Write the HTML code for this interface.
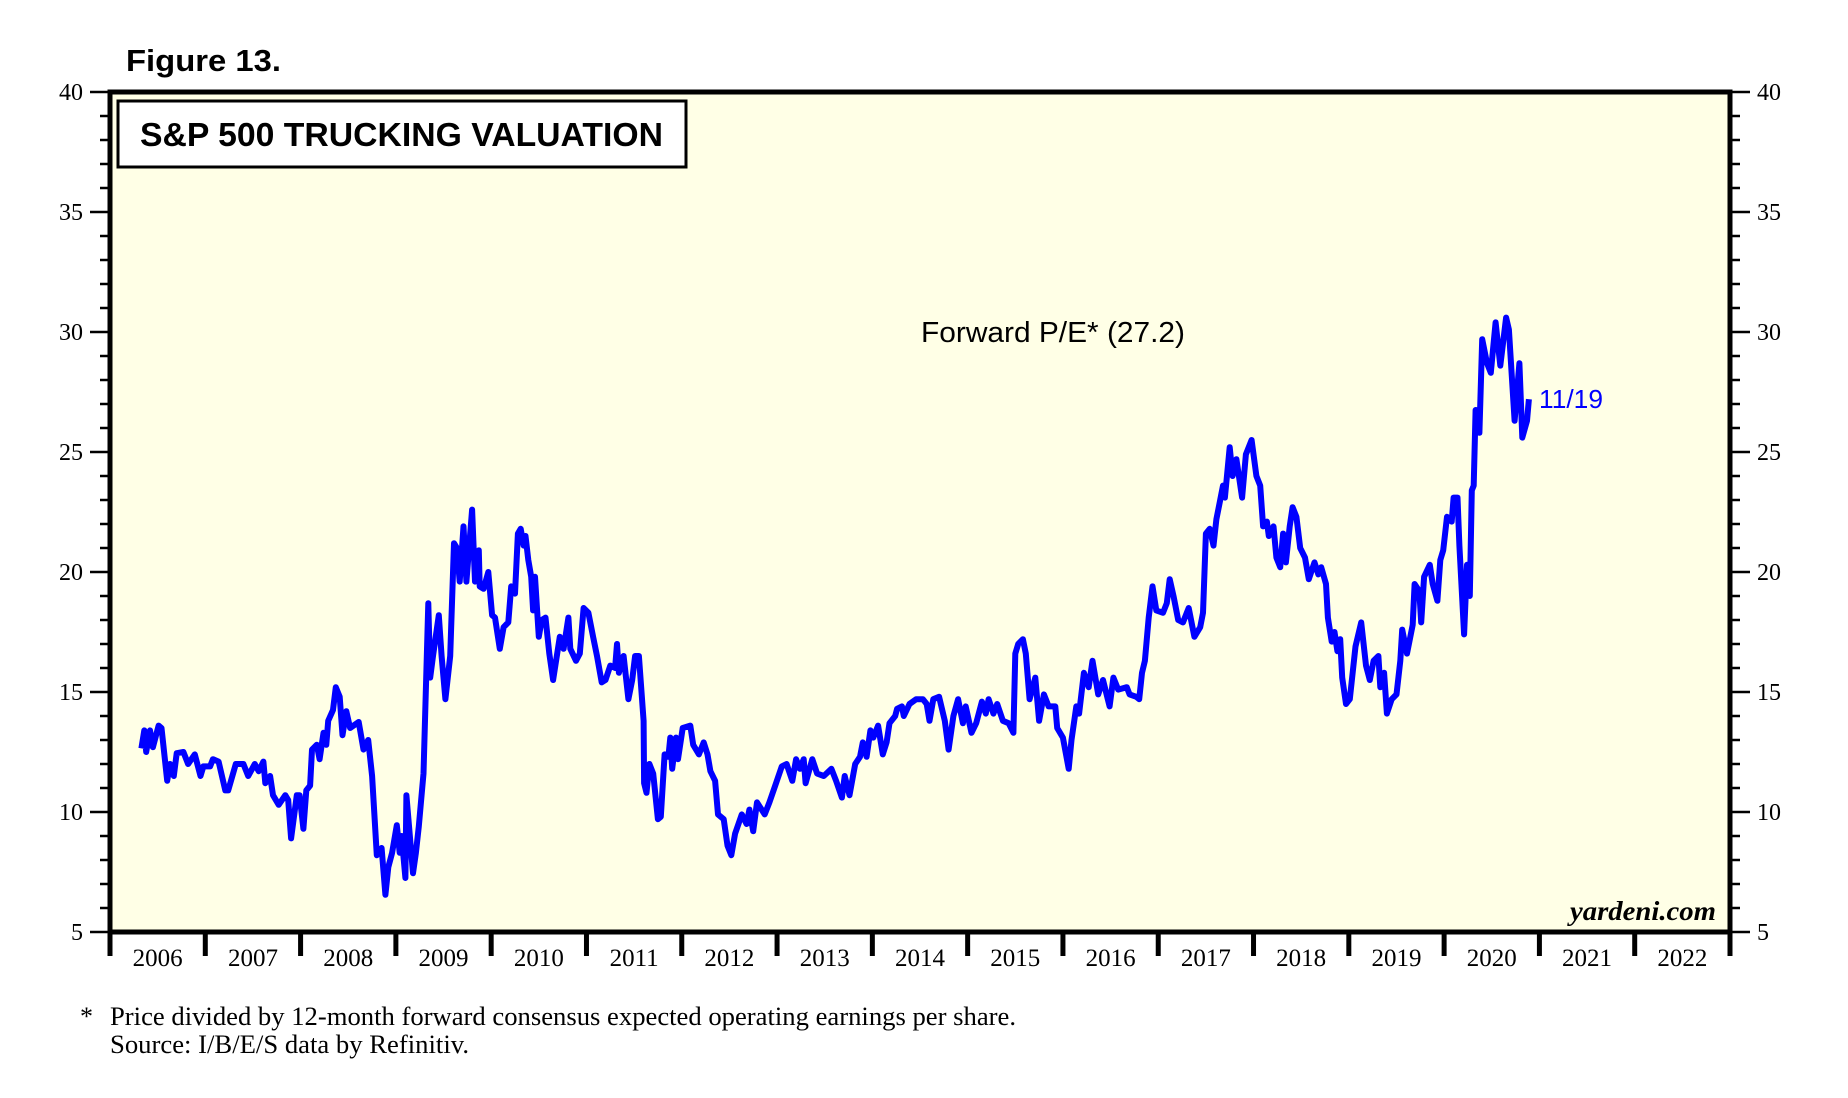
<!DOCTYPE html>
<html><head><meta charset="utf-8"><style>
html,body{margin:0;padding:0;background:#fff;}
svg{display:block;}
</style></head><body>
<svg id="chart" width="1848" height="1098" viewBox="0 0 1848 1098" xmlns="http://www.w3.org/2000/svg">
<text x="126" y="71" font-family="Liberation Sans, sans-serif" font-weight="bold" font-size="31" textLength="155" lengthAdjust="spacingAndGlyphs">Figure 13.</text>
<rect x="110" y="92" width="1620" height="840" fill="#ffffe6"/>
<g id="axes"></g>
<path id="series" fill="none" stroke="#0000ff" stroke-width="6" stroke-linejoin="round"/>
<rect x="110" y="92" width="1620" height="840" fill="none" stroke="#000" stroke-width="5"/>
<rect x="118" y="101" width="568" height="66" fill="#fff" stroke="#000" stroke-width="3"/>
<text x="140" y="146" font-family="Liberation Sans, sans-serif" font-weight="bold" font-size="33" textLength="523" lengthAdjust="spacingAndGlyphs">S&amp;P 500 TRUCKING VALUATION</text>
<text x="921" y="342" font-family="Liberation Sans, sans-serif" font-size="29" textLength="264" lengthAdjust="spacingAndGlyphs">Forward P/E* (27.2)</text>
<text x="1539" y="408" fill="#0000ff" font-family="Liberation Sans, sans-serif" font-size="26" textLength="64" lengthAdjust="spacingAndGlyphs">11/19</text>
<text x="1570" y="920" font-family="Liberation Serif, serif" font-style="italic" font-weight="bold" font-size="27" textLength="146" lengthAdjust="spacingAndGlyphs">yardeni.com</text>
<text x="80" y="1025" font-family="Liberation Serif, serif" font-size="26">*</text>
<text x="110" y="1025" font-family="Liberation Serif, serif" font-size="26" textLength="906" lengthAdjust="spacingAndGlyphs">Price divided by 12-month forward consensus expected operating earnings per share.</text>
<text x="110" y="1053" font-family="Liberation Serif, serif" font-size="26" textLength="359" lengthAdjust="spacingAndGlyphs">Source: I/B/E/S data by Refinitiv.</text>
</svg>
<script>
const yearLabels = ["2006","2007","2008","2009","2010","2011","2012","2013","2014","2015","2016","2017","2018","2019","2020","2021","2022"];
const yTicks = [5,10,15,20,25,30,35,40];
const dates = [2006.33,2006.36,2006.38,2006.42,2006.45,2006.51,2006.54,2006.60,2006.63,2006.67,2006.70,2006.77,2006.82,2006.89,2006.95,2006.98,2007.05,2007.08,2007.14,2007.21,2007.24,2007.32,2007.40,2007.45,2007.52,2007.56,2007.61,2007.63,2007.68,2007.71,2007.77,2007.84,2007.87,2007.90,2007.96,2007.99,2008.03,2008.06,2008.10,2008.12,2008.17,2008.20,2008.24,2008.27,2008.29,2008.34,2008.37,2008.41,2008.44,2008.48,2008.52,2008.61,2008.66,2008.71,2008.75,2008.80,2008.85,2008.89,2008.92,2008.96,2009.01,2009.04,2009.06,2009.10,2009.11,2009.18,2009.21,2009.24,2009.29,2009.34,2009.36,2009.39,2009.45,2009.48,2009.52,2009.57,2009.61,2009.64,2009.67,2009.71,2009.74,2009.80,2009.83,2009.87,2009.88,2009.92,2009.97,2010.01,2010.04,
2010.09,2010.13,2010.18,2010.21,2010.25,2010.28,2010.31,2010.34,2010.36,2010.39,2010.42,2010.44,2010.46,2010.50,2010.53,2010.57,2010.61,2010.65,2010.72,2010.76,2010.81,2010.83,2010.89,2010.93,2010.97,2011.02,2011.07,2011.11,2011.16,2011.20,2011.25,2011.30,2011.32,2011.34,2011.39,2011.44,2011.48,2011.51,2011.55,2011.60,2011.605,2011.63,2011.66,2011.70,2011.75,2011.78,2011.82,2011.86,2011.88,2011.90,2011.94,2011.96,2012.01,2012.09,2012.12,2012.18,2012.23,2012.27,2012.30,2012.35,2012.38,2012.44,2012.48,2012.52,2012.56,2012.63,2012.68,2012.71,2012.75,2012.79,2012.87,2012.92,2012.98,2013.05,2013.10,2013.16,2013.20,2013.24,2013.28,2013.30,2013.37,2013.42,2013.49,2013.57,2013.62,2013.68,2013.71,2013.76,2013.82,2013.87,2013.90,2013.94,2013.98,2014.01,2014.06,
2014.11,2014.15,2014.18,2014.24,2014.26,2014.31,2014.33,2014.39,2014.46,2014.53,2014.57,2014.60,2014.64,2014.70,2014.76,2014.80,2014.85,2014.90,2014.95,2014.98,2015.04,2015.09,2015.15,2015.19,2015.22,2015.27,2015.31,2015.37,2015.43,2015.48,2015.50,2015.53,2015.58,2015.61,2015.65,2015.71,2015.75,2015.80,2015.85,2015.92,2015.94,2016.00,2016.06,2016.09,2016.14,2016.17,2016.22,2016.27,2016.31,2016.37,2016.42,2016.49,2016.53,2016.58,2016.67,2016.70,2016.77,2016.80,2016.83,2016.86,2016.90,2016.94,2016.98,2017.05,2017.09,2017.12,2017.16,2017.21,2017.26,2017.32,2017.38,2017.44,2017.47,2017.50,2017.54,2017.58,2017.61,2017.65,2017.68,2017.70,2017.75,2017.78,2017.82,2017.88,2017.92,
2017.98,2018.03,2018.07,2018.10,2018.14,2018.16,2018.21,2018.24,2018.28,2018.31,2018.34,2018.38,2018.41,2018.45,2018.49,2018.54,2018.58,2018.64,2018.68,2018.71,2018.76,2018.78,2018.82,2018.85,2018.88,2018.91,2018.93,2018.97,2019.01,2019.07,2019.13,2019.18,2019.22,2019.26,2019.31,2019.33,2019.37,2019.40,2019.45,2019.50,2019.54,2019.56,2019.61,2019.67,2019.69,2019.74,2019.76,2019.79,2019.85,2019.88,2019.93,2019.96,2019.99,2020.03,2020.08,2020.10,2020.14,2020.16,2020.21,2020.24,2020.27,2020.29,2020.31,2020.33,2020.37,2020.40,2020.45,2020.49,2020.54,2020.59,2020.65,2020.68,2020.74,2020.79,2020.82,2020.87,2020.89];
const values = [12.65,13.4,12.5,13.4,12.7,13.6,13.5,11.3,12.0,11.5,12.45,12.5,12.0,12.4,11.5,11.9,11.9,12.2,12.1,10.9,10.9,12.0,12.0,11.5,12.0,11.7,12.1,11.2,11.5,10.7,10.3,10.7,10.5,8.9,10.7,10.7,9.3,10.9,11.1,12.6,12.8,12.2,13.3,12.8,13.8,14.25,15.2,14.8,13.2,14.2,13.5,13.75,12.6,13.0,11.5,8.2,8.5,6.55,7.7,8.3,9.45,8.3,9.0,7.25,10.7,7.45,8.3,9.4,11.6,18.7,15.6,16.5,18.2,16.5,14.7,16.5,21.2,21.0,19.6,21.9,19.6,22.6,19.6,20.9,19.4,19.3,20.0,18.2,18.1,
16.8,17.7,17.9,19.4,19.1,21.6,21.8,21.1,21.5,20.5,19.8,18.4,19.8,17.3,18.0,18.1,16.6,15.5,17.3,16.8,18.1,16.8,16.3,16.6,18.5,18.3,17.3,16.5,15.4,15.5,16.1,16.0,17.0,15.8,16.5,14.7,15.5,16.5,16.5,13.8,11.2,10.8,12.0,11.6,9.7,9.8,12.4,12.3,13.1,11.8,13.1,12.2,13.5,13.6,12.8,12.4,12.9,12.4,11.7,11.3,9.9,9.7,8.6,8.2,9.1,9.9,9.5,10.1,9.2,10.4,9.9,10.4,11.1,11.9,12.0,11.3,12.2,11.8,12.2,11.2,12.2,11.6,11.5,11.8,11.3,10.6,11.5,10.7,12.0,12.3,12.9,12.3,13.4,13.1,13.6,
12.4,12.9,13.7,14.0,14.3,14.4,14.0,14.5,14.7,14.7,14.5,13.8,14.7,14.8,13.8,12.6,14.0,14.7,13.7,14.4,13.3,13.7,14.6,14.1,14.7,14.1,14.5,13.8,13.7,13.3,16.6,17.0,17.2,16.6,14.7,15.6,13.8,14.9,14.4,14.4,13.5,13.1,11.8,13.0,14.4,14.1,15.8,15.2,16.3,14.9,15.5,14.4,15.6,15.1,15.2,14.9,14.8,14.7,15.8,16.3,18.1,19.4,18.4,18.3,18.7,19.7,19.0,18.0,17.9,18.5,17.3,17.7,18.3,21.6,21.8,21.1,22.2,23.0,23.6,23.1,25.2,24.0,24.7,23.1,24.9,
25.5,24.0,23.6,21.9,22.1,21.5,21.9,20.6,20.2,21.6,20.4,21.9,22.7,22.3,21.0,20.6,19.7,20.4,19.9,20.2,19.5,18.1,17.1,17.5,16.7,17.2,15.6,14.5,14.7,16.9,17.9,16.1,15.5,16.3,16.5,15.2,15.8,14.1,14.7,14.9,16.3,17.6,16.6,17.8,19.5,19.2,17.9,19.8,20.3,19.5,18.8,20.5,20.9,22.3,22.1,23.1,23.1,21.1,17.4,20.3,19.0,23.4,23.6,26.75,25.8,29.7,28.7,28.3,30.4,28.6,30.6,30.1,26.3,28.7,25.6,26.3,27.2];

const X0=110, X1=1730, Y0=932, Y1=92, T0=2006, T1=2023, V0=5, V1=40;
function xs(t){return X0+(t-T0)/(T1-T0)*(X1-X0);}
function ys(v){return Y0-(v-V0)/(V1-V0)*(Y0-Y1);}
const NS="http://www.w3.org/2000/svg";
const axes=document.getElementById('axes');
function mk(tag,attrs){const e=document.createElementNS(NS,tag);for(const k in attrs)e.setAttribute(k,attrs[k]);axes.appendChild(e);return e;}
for(let v=V0; v<=V1; v++){
  const major = v%5===0;
  const y=ys(v);
  const l=mk('line',{x1:X0-(major?20:10),x2:X0,y1:y,y2:y,stroke:'#000','stroke-width':2.5});
  
  
  const r=mk('line',{x1:X1,x2:X1+(major?20:10),y1:y,y2:y,stroke:'#000','stroke-width':2.5});
  
  
}
yTicks.forEach(v=>{
  const y=ys(v)+8;
  const a=mk('text',{x:83,y:y,'text-anchor':'end','font-family':'Liberation Serif, serif','font-size':24});
  a.textContent=v;
  
  
  const b=mk('text',{x:1757,y:y,'font-family':'Liberation Serif, serif','font-size':24});
  b.textContent=v;
  
  
});
for(let i=0;i<=yearLabels.length;i++){
  const x=xs(T0+i);
  const l=mk('line',{x1:x,x2:x,y1:Y0,y2:Y0+24,stroke:'#000','stroke-width':5});
  
  
}
yearLabels.forEach((lab,i)=>{
  const t=mk('text',{x:xs(T0+i+0.5),y:966,'text-anchor':'middle','font-family':'Liberation Serif, serif','font-size':25});
  t.textContent=lab;
  
  
});
let d='';
dates.forEach((t,i)=>{d+=(i?'L':'M')+xs(t).toFixed(1)+' '+ys(values[i]).toFixed(1);});
document.getElementById('series').setAttribute('d',d);
</script>
</body></html>
